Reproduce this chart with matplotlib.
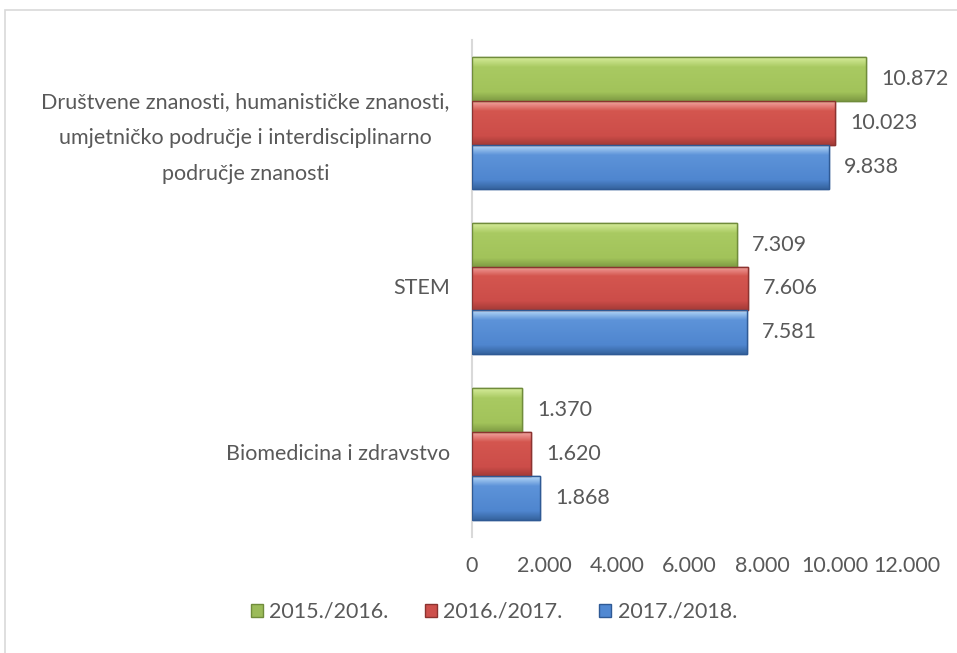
import numpy as np
import matplotlib.pyplot as plt
from matplotlib.patches import Rectangle
from matplotlib.colors import LinearSegmentedColormap

# --- podaci ---
kategorije = ['Društvene znanosti, humanističke znanosti,\numjetničko područje i interdisciplinarno\npodručje znanosti',
              'STEM',
              'Biomedicina i zdravstvo']
godine = ['2015./2016.', '2016./2017.', '2017./2018.']
v_2015 = [10872, 7309, 1370]
v_2016 = [10023, 7606, 1620]
v_2017 = [9838, 7581, 1868]
vrijednosti = [v_2015, v_2016, v_2017]

# boje (svijetli rub, tijelo, tamni rub)
boje = ['#9bbb59', '#cd504c', '#5088d2']
gradijenti = [['#d6ec9a', '#a9ca62', '#a2c35a', '#7f9c44'],
              ['#f3a5a1', '#d4564f', '#cc4d49', '#a53b37'],
              ['#b6d8f7', '#5d93d9', '#4f86cf', '#36649f']]
rubovi = ['#708c3b', '#8c3330', '#2f5a95']

siva = '#595959'
fs = 15.5
plt.rcParams['font.family'] = ['Lato', 'DejaVu Sans']

W, H = 957, 653
fig = plt.figure(figsize=(W / 100, H / 100), dpi=100)
ax = fig.add_axes([472 / W, 1 - 537 / H, (907 - 472) / W, (537 - 40) / H])

# okvir grafikona
fig.patches.append(Rectangle((5 / W, -0.1), 1.2, 1 - 10 / H + 0.1,
                             transform=fig.transFigure, fill=False,
                             edgecolor='#d9d9d9', linewidth=1.2))

n = len(kategorije)
y = np.arange(n)[::-1]
h = 0.265
ax.set_xlim(0, 12000)
ax.set_ylim(-0.5, n - 0.5)

for i, (vals, lab) in enumerate(zip(vrijednosti, godine)):
    pos = y + h * (1 - i)
    bars = ax.barh(pos, vals, height=h, color=boje[i], edgecolor=rubovi[i],
                   linewidth=1.0, label=lab, zorder=2)
    cmap = LinearSegmentedColormap.from_list(
        'g%d' % i, list(zip([0, 0.22, 0.8, 1], gradijenti[i])))
    grad = np.linspace(0, 1, 64).reshape(-1, 1)
    for b, v in zip(bars, vals):
        x0, y0, bw, bh = b.get_x(), b.get_y(), b.get_width(), b.get_height()
        im = ax.imshow(grad, cmap=cmap, aspect='auto', origin='upper',
                       extent=[x0, x0 + bw, y0, y0 + bh], zorder=2.5)
        im.set_clip_path(b)
        ax.add_patch(Rectangle((x0, y0), bw, bh, fill=False,
                               edgecolor=rubovi[i], linewidth=1.0, zorder=3))
        ax.annotate(f'{v:,}'.replace(',', '.'), (v, y0 + bh / 2),
                    xytext=(11, 0), textcoords='offset points',
                    va='center', ha='left', fontsize=fs, color=siva)

ax.set_xticks(np.arange(0, 12001, 2000))
ax.set_xticklabels([f'{t:,}'.replace(',', '.') for t in range(0, 12001, 2000)])
ax.set_yticks([])
ax.tick_params(axis='x', length=0, pad=14, labelsize=fs, labelcolor=siva)

# nazivi kategorija
pomaci = [-11, 0, 0]
for k, yy, dy in zip(kategorije, y, pomaci):
    ax.annotate(k, (0, yy), xycoords=('axes fraction', 'data'),
                xytext=(-16, dy), textcoords='offset points',
                ha='right', va='center', multialignment='center',
                linespacing=2.0, fontsize=fs, color=siva)

for s in ['top', 'right', 'bottom']:
    ax.spines[s].set_visible(False)
ax.spines['left'].set_color('#d9d9d9')
ax.spines['left'].set_linewidth(1.5)

ax.legend(loc='center', bbox_to_anchor=(494 / W, 1 - 612 / H),
          bbox_transform=fig.transFigure, ncol=3, frameon=False,
          fontsize=fs, labelcolor=siva, handlelength=0.55, handleheight=0.55,
          handletextpad=0.3, columnspacing=1.7)

fig.savefig('out.png', dpi=100)
